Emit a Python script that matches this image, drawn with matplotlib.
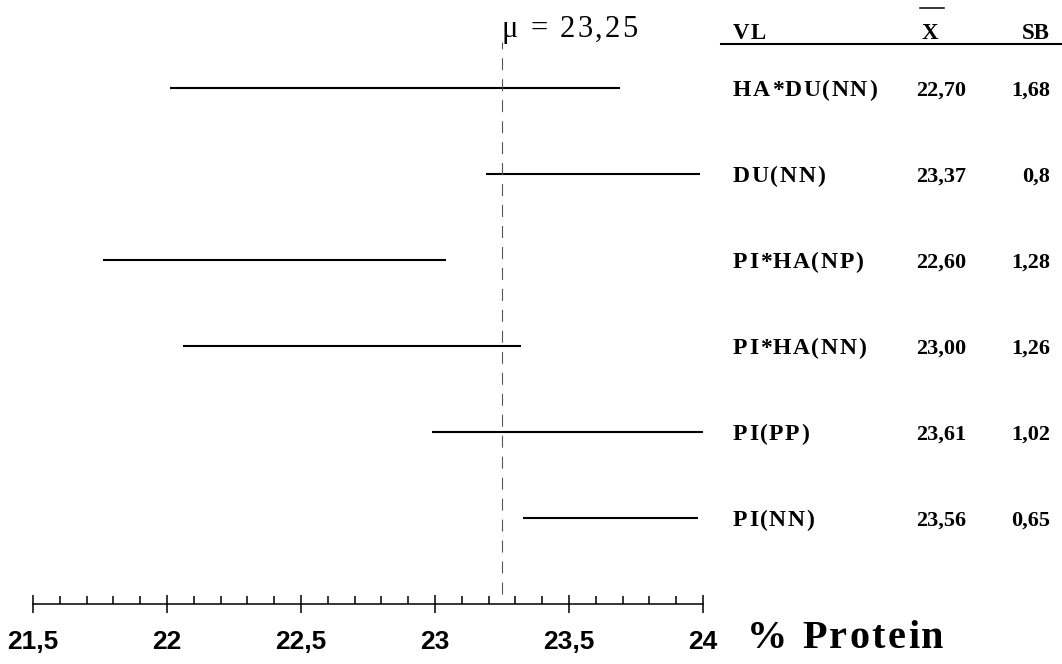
import matplotlib
matplotlib.use('Agg')
import matplotlib.pyplot as plt
from matplotlib import font_manager
from matplotlib.font_manager import FontProperties
from matplotlib.ft2font import FT2Font
from matplotlib.ticker import FixedLocator, FuncFormatter
from matplotlib.lines import Line2D

# Protein content per variety line: interval start, mean and SB
groups = ['HA*DU(NN)', 'DU(NN)', 'PI*HA(NP)', 'PI*HA(NN)', 'PI(PP)', 'PI(NN)']
means = [22.70, 23.37, 22.60, 23.00, 23.61, 23.56]
sb = [1.68, 0.8, 1.28, 1.26, 1.02, 0.65]
lower = [22.01, 23.19, 21.76, 22.06, 22.99, 23.33]
mu = 23.25

major_ticks = [21.5, 22, 22.5, 23, 23.5, 24]
minor_ticks = [21.5 + 0.1 * i for i in range(26)]

plt.rcParams['lines.scale_dashes'] = False

W, H = 1062, 664
fig = plt.figure(figsize=(W / 100, H / 100), dpi=100)


def fx(x):
    return x / W


def fy(y):
    return 1 - y / H


def comma(v, fmt='{:g}'):
    return fmt.format(v).replace('.', ',')


def tracked(x, y, s, track, size, weight='normal'):
    # serif text drawn char by char with extra letter spacing, x/y in pixels (baseline)
    path = font_manager.findfont(FontProperties(family='Liberation Serif', weight=weight))
    ft = FT2Font(path, hinting_factor=1)
    ft.set_size(size, 100)
    for ch in s:
        if ch != ' ':
            fig.text(fx(x), fy(y), ch, ha='left', va='baseline',
                     family='Liberation Serif', weight=weight, size=size)
        x += ft.load_char(ord(ch)).linearHoriAdvance / 65536 + track


ax = fig.add_axes([fx(33), fy(604), fx(703) - fx(33), fy(40) - fy(604)])
ax.set_xlim(21.5, 24)
ax.set_ylim(0, (604 - 40) / 86)

rows = list(range(len(groups), 0, -1))
upper = [lo + s for lo, s in zip(lower, sb)]
ax.hlines(rows, lower, upper, color='black', lw=1.5)
ax.vlines(mu, 0.12, 6.54, color='#555555', lw=0.8, linestyles=(0, (8.6, 6.5)))

# only the bottom axis is drawn
for side in ['top', 'left', 'right']:
    ax.spines[side].set_visible(False)
ax.spines['bottom'].set_linewidth(1.1)
ax.yaxis.set_visible(False)

ax.xaxis.set_major_locator(FixedLocator(major_ticks))
ax.xaxis.set_minor_locator(FixedLocator(minor_ticks))
ax.xaxis.set_major_formatter(FuncFormatter(lambda v, p: comma(v)))
ax.tick_params(axis='x', which='major', direction='inout', length=13, width=1.1,
               pad=12, labelsize=19)
ax.tick_params(axis='x', which='minor', direction='in', length=5.8, width=1.1)
for lbl in ax.get_xticklabels():
    lbl.set_family('Liberation Sans')
    lbl.set_weight('bold')

tracked(747, 648, '% Protein', 2.5, 29, 'bold')
tracked(502, 37, 'μ = ' + comma(mu, '{:.2f}'), 2, 22)

# table on the right
tracked(733, 39, 'VL', 1.5, 16.5, 'bold')
hdr = dict(family='Liberation Serif', weight='bold', size=16.5, va='baseline')
fig.text(fx(930), fy(39), 'X', ha='center', **hdr)
fig.text(fx(1050), fy(39), 'SB', ha='right', **hdr)
fig.add_artist(Line2D([fx(920), fx(944)], [fy(8), fy(8)], color='black', lw=1.1))
fig.add_artist(Line2D([fx(721), fx(1062)], [fy(44), fy(44)], color='black', lw=1.5))

cell = dict(family='Liberation Serif', weight='bold', size=16, va='baseline')
for r, g, m, s in zip(rows, groups, means, sb):
    base = 604 - r * 86 + 8
    tracked(733, base, g, 1.3, 17, 'bold')
    fig.text(fx(941), fy(base), comma(m, '{:.2f}'), ha='center', **cell)
    fig.text(fx(1050), fy(base), comma(s), ha='right', **cell)

fig.savefig('out.png', dpi=100)
